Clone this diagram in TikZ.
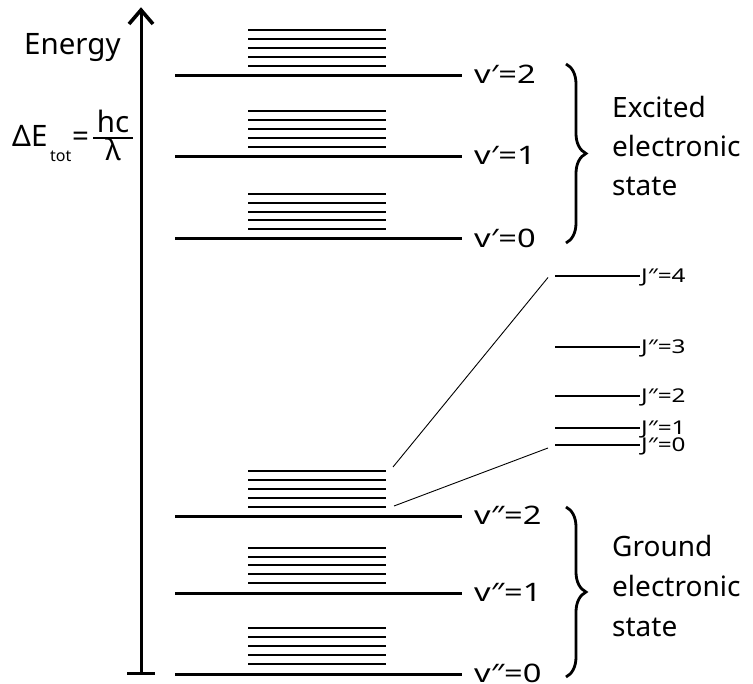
\documentclass[tikz,border=0pt]{standalone}
\usepackage{fontspec}
\setmainfont{Noto Sans}
\newfontfamily\lblfont{Noto Sans}[FakeStretch=1.28]
\usetikzlibrary{decorations.pathreplacing}
\begin{document}
\begin{tikzpicture}[x=1pt,y=-1pt,
  level/.style={line width=3pt},
  sublev/.style={line width=2pt},
  jlev/.style={line width=2pt},
  thinline/.style={line width=0.9pt},
  axisline/.style={line width=3pt},
  bracestyle/.style={line width=2.8pt,decorate,decoration={brace,amplitude=20pt}},
  vlbl/.style={font=\lblfont\fontsize{25.5}{25.5}\selectfont, inner sep=0pt, anchor=base west, text height=0.72em, text depth=0pt},
  jlbl/.style={font=\lblfont\fontsize{19}{19}\selectfont, inner sep=0pt, anchor=base west, text height=0.72em, text depth=0pt},
  big/.style={font=\fontsize{29.5}{29.5}\selectfont, inner sep=0pt},
  statetxt/.style={font=\fontsize{28}{28}\selectfont, inner sep=0pt, anchor=base west}
]
\useasboundingbox (0,0) rectangle (753,684);

% energy axis
\coordinate (axb) at (141,673);
\coordinate (axt) at (141,9);
\draw[axisline] (axb) -- (axt);
\draw[line width=3.6pt, line join=miter] (129,24) -- (141,10) -- (153,24);
\draw[axisline] (127,673) -- (155,673);

\node[big, anchor=base west] (energy) at (24,55) {Energy};

% Delta E formula
\node[big, anchor=base west] (de) at (12,147) {ΔE};
\node[font=\fontsize{16}{16}\selectfont, inner sep=0pt, anchor=base west] (tot) at (50,162) {tot};
\node[big, anchor=base west] (eq) at (72,147) {=};
\draw[line width=2pt] (93,138) -- (133,138);
\node[big, anchor=base, text height=0.7em, text depth=0pt] (hc) at (113,133) {hc};
\node[big, anchor=base, text height=0.7em, text depth=0pt] (lam) at (113,161) {λ};

% excited levels
\foreach \y/\lab in {75.5/2, 156.5/1, 239/0}{
  \draw[level] (175,\y) -- (462,\y);
  \foreach \k in {0,...,4}{
    \draw[sublev] (248,{\y-9.8-8.8*\k}) -- (386,{\y-9.8-8.8*\k});
  }
  \node[vlbl] (vp\lab) at (474,\y+8.5) {v′=\lab};
}
% ground levels
\foreach \y/\lab in {516.7/2, 593.3/1, 674/0}{
  \draw[level] (175,\y) -- (462,\y);
  \foreach \k in {0,...,4}{
    \draw[sublev] (248,{\y-10-8.9*\k}) -- (386,{\y-10-8.9*\k});
  }
  \node[vlbl] (vpp\lab) at (474,\y+8.3) {v″=\lab};
}

% rotational levels
\foreach \y/\lab in {276/4, 347.5/3, 396/2, 428.5/1, 445/0}{
  \draw[jlev] (555,\y) -- (640,\y);
  \node[jlbl] (J\lab) at (641,\y+6.5) {J″=\lab};
}

% connecting lines
\coordinate (s1) at (393,467);
\coordinate (e1) at (548,277.5);
\coordinate (s2) at (394,506);
\coordinate (e2) at (548,448);
\draw[thinline] (s1) -- (e1);
\draw[thinline] (s2) -- (e2);

% braces
\draw[bracestyle] (566,64) -- (566,243);
\draw[bracestyle] (566,507) -- (566,677);

\node[statetxt] (ex1) at (612,118) {Excited};
\node[statetxt] (ex2) at (612,157) {electronic};
\node[statetxt] (ex3) at (612,196) {state};
\node[statetxt] (gr1) at (612,557) {Ground};
\node[statetxt] (gr2) at (612,597) {electronic};
\node[statetxt] (gr3) at (612,636) {state};
\end{tikzpicture}
\end{document}
